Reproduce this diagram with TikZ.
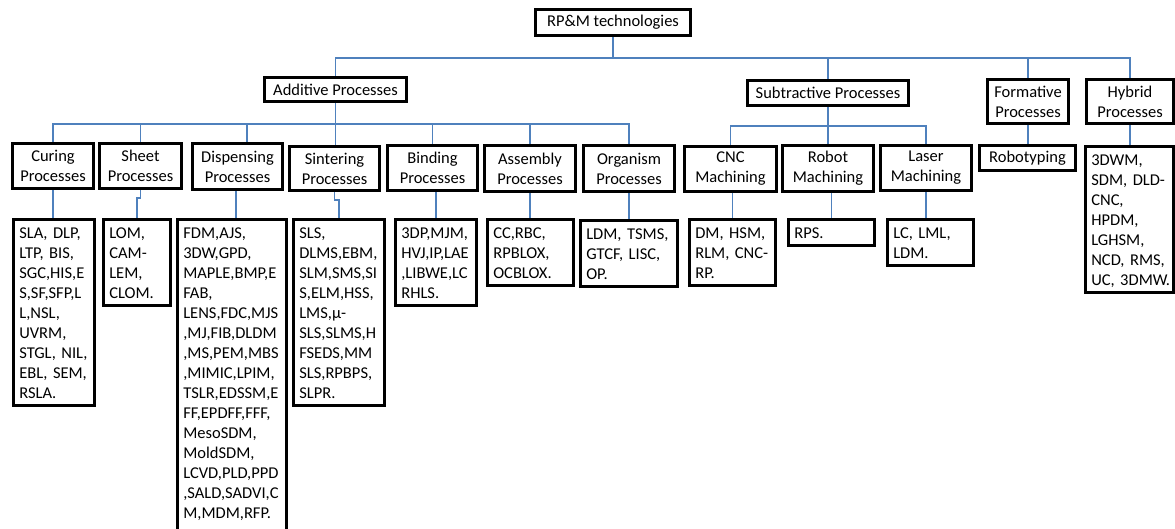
\documentclass[tikz,border=0pt]{standalone}
\usepackage{fontspec}
\setmainfont{Carlito}
\usetikzlibrary{backgrounds}
\definecolor{connblue}{RGB}{79,129,189}
\newcommand\myTopStrut{\rule{0pt}{16pt}}
\newcommand\myBotStrut{\rule[-4pt]{0pt}{4pt}}
\tikzset{
  box/.style={draw=black, line width=2.6pt, inner sep=0pt, align=center,
    font=\fontsize{16.5}{20}\selectfont},
  lst/.style={draw=black, line width=2.6pt, anchor=north, inner xsep=6pt, inner ysep=3pt,
    align=left, font=\fontsize{16.5}{20}\selectfont,
    execute at begin node=\myTopStrut, execute at end node=\myBotStrut},
  conn/.style={draw=connblue, line width=1.4pt}
}
\begin{document}
\begin{tikzpicture}[x=1pt,y=-1pt]
\useasboundingbox (0,0) rectangle (1175,529);
% level 0 and 1
\node[box, minimum width=155.4, minimum height=26.4] (root) at (613,22.5) {RP\&M technologies};
\node[box, minimum width=142.4, minimum height=24.4] (add) at (335.5,89.5) {Additive Processes};
\node[box, minimum width=161.4, minimum height=25.4] (sub) at (828,93) {Subtractive Processes};
\node[box, minimum width=81.4, minimum height=44.4] (form) at (1028,101.5) {Formative\\Processes};
\node[box, minimum width=87.4, minimum height=44.4] (hyb) at (1130,101.5) {Hybrid\\Processes};
% level 2
\node[box, minimum width=81.4, minimum height=45.4] (cur) at (53,166) {Curing\\Processes};
\node[box, minimum width=82.4, minimum height=45.4] (she) at (140.5,166) {Sheet\\Processes};
\node[box, minimum width=90.4, minimum height=46.4] (dis) at (237.5,166.5) {Dispensing\\Processes};
\node[box, minimum width=90.4, minimum height=44.4] (sin) at (334.5,168.5) {Sintering\\Processes};
\node[box, minimum width=90.4, minimum height=45.4] (bin) at (432.5,168) {Binding\\Processes};
\node[box, minimum width=91.4, minimum height=46.4] (asm) at (530,168.5) {Assembly\\Processes};
\node[box, minimum width=91.4, minimum height=46.4] (org) at (629,168.5) {Organism\\Processes};
\node[box, minimum width=92.4, minimum height=45.4] (cnc) at (730.5,169) {CNC\\Machining};
\node[box, minimum width=91.4, minimum height=46.4] (rob) at (828,168.5) {Robot\\Machining};
\node[box, minimum width=91.4, minimum height=45.4] (las) at (926,168) {Laser\\Machining};
\node[box, minimum width=96.4, minimum height=25.4] (rty) at (1027.5,158) {Robotyping};
% level 3 lists
\node[lst, text width=69.4] (curL) at (54,218.3) {SLA,~DLP,\\LTP,~BIS,\\SGC,HIS,E\\S,SF,SFP,L\\L,NSL,\\UVRM,\\STGL,~NIL,\\EBL,~SEM,\\RSLA.};
\node[lst, text width=55.4] (sheL) at (137,218.3) {LOM,\\CAM-\\LEM,\\CLOM.};
\node[lst, text width=97.4] (disL) at (232,218.3) {FDM,AJS,\\3DW,GPD,\\MAPLE,BMP,E\\FAB,\\LENS,FDC,MJS\\,MJ,FIB,DLDM\\,MS,PEM,MBS\\,MIMIC,LPIM,\\TSLR,EDSSM,E\\FF,EPDFF,FFF,\\MesoSDM,\\MoldSDM,\\LCVD,PLD,PPD\\,SALD,SADVI,C\\M,MDM,RFP.\rule[-10pt]{0pt}{10pt}};
\node[lst, text width=79.4] (sinL) at (339,218.3) {SLS,\\DLMS,EBM,\\SLM,SMS,SI\\S,ELM,HSS,\\LMS,μ-\\SLS,SLMS,H\\FSEDS,MM\\SLS,RPBPS,\\SLPR.};
\node[lst, text width=69.4] (binL) at (436,218.3) {3DP,MJM,\\HVJ,IP,LAE\\,LIBWE,LC\\RHLS.};
\node[lst, text width=74.4] (asmL) at (530.5,218.3) {CC,RBC,\\RPBLOX,\\OCBLOX.};
\node[lst, text width=85.4] (orgL) at (629,219.3) {LDM,~TSMS,\\GTCF,~LISC,\\OP.};
\node[lst, text width=74.4] (cncL) at (732.5,218.3) {DM,~HSM,\\RLM,~CNC-\\RP.};
\node[lst, text width=74.4] (robL) at (831.5,218.3) {RPS.};
\node[lst, text width=74.4] (lasL) at (930.5,218.3) {LC,~LML,\\LDM.};
\node[lst, text width=76.4] (hybL) at (1129.5,145.3) {3DWM,\\SDM,~DLD-\\CNC,\\HPDM,\\LGHSM,\\NCD,~RMS,\\UC,~3DMW.};
% connectors
\begin{scope}[on background layer]
\draw[conn] (root.south) -- ++(0,21) -| (add.north);
\draw[conn] (root.south) -- ++(0,21) -| (sub.north);
\draw[conn] (root.south) -- ++(0,21) -| (form.north);
\draw[conn] (root.south) -- ++(0,21) -| (hyb.north);
\draw[conn] (add.south) -- ++(0,21) -| (cur.north);
\draw[conn] (add.south) -- ++(0,21) -| (she.north);
\draw[conn] (add.south) -- ++(0,21) -| ([xshift=9.5pt]dis.north);
\draw[conn] (add.south) -- (add.south |- sin.north);
\draw[conn] (add.south) -- ++(0,21) -| (bin.north);
\draw[conn] (add.south) -- ++(0,21) -| (asm.north);
\draw[conn] (add.south) -- ++(0,21) -| (org.north);
\draw[conn] (sub.south) -- ++(0,19) -| (cnc.north);
\draw[conn] (sub.south) -- (sub.south |- rob.north);
\draw[conn] (sub.south) -- ++(0,19) -| (las.north);
\draw[conn] (cur.south) -- (cur.south |- curL.north);
\draw[conn] (she.south) -- ++(0,8) -| (sheL.north);
\draw[conn] ([xshift=-1.5pt]dis.south) -- ([xshift=-1.5pt]dis.south |- disL.north);
\draw[conn] (sin.south) -- ++(0,8) -| (sinL.north);
\draw[conn] (binL.north) -- (binL.north |- bin.south);
\draw[conn] (asm.south) -- (asm.south |- asmL.north);
\draw[conn] (org.south) -- (org.south |- orgL.north);
\draw[conn] (cncL.north) -- (cncL.north |- cnc.south);
\draw[conn] (robL.north) -- (robL.north |- rob.south);
\draw[conn] (las.south) -- (las.south |- lasL.north);
\draw[conn] (form.south) -- (form.south |- rty.north);
\draw[conn] (hyb.south) -- (hyb.south |- hybL.north);
\end{scope}
\end{tikzpicture}
\end{document}
